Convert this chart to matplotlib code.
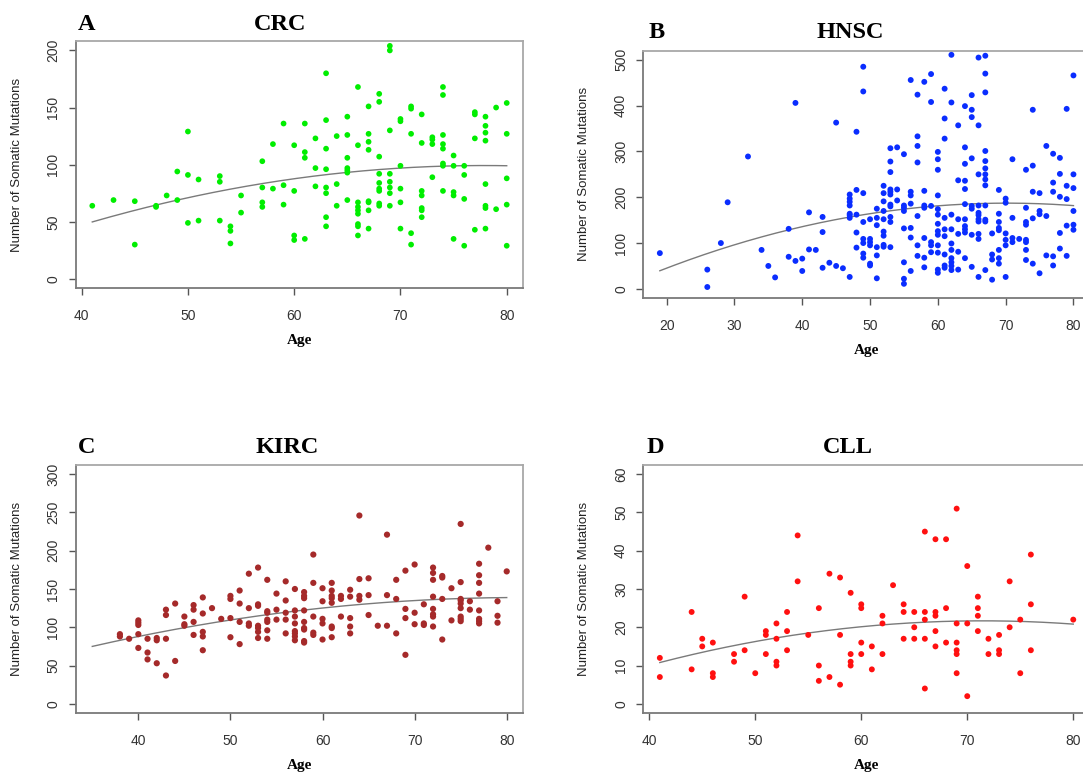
import numpy as np
import matplotlib.pyplot as plt

# --- data (age -> somatic mutation counts) ---
crc_ages = [41, 43, 45, 47, 48, 49, 50, 51, 53, 54, 55, 57, 58, 59, 60, 61, 62, 63, 64, 65,
            66, 67, 68, 69, 70, 71, 72, 73, 74, 75, 76, 77, 78, 79, 80]
crc_counts = [[64], [69], [68, 30], [64, 63], [73], [94, 69], [129, 91, 49], [87, 51],
              [90, 85, 51], [46, 42, 31], [73, 58], [103, 80, 67, 63], [118, 79], [136, 82, 65],
              [117, 77, 38, 34], [136, 111, 106, 35], [123, 97, 81],
              [180, 139, 114, 96, 80, 75, 54, 46], [125, 83, 64], [142, 126, 106, 97, 95, 93, 69],
              [168, 117, 67, 63, 60, 57, 48, 46, 38], [151, 127, 120, 113, 68, 67, 60, 44],
              [162, 155, 107, 92, 84, 79, 77, 66, 64], [204, 200, 130, 92, 85, 80, 75, 64],
              [140, 138, 99, 79, 67, 44], [151, 149, 127, 40, 30], [144, 119, 77, 73, 62, 60, 54],
              [124, 122, 118, 89], [168, 161, 126, 118, 114, 101, 99, 77], [108, 99, 76, 73, 35],
              [99, 91, 70, 29], [146, 144, 123, 43], [142, 134, 128, 121, 83, 64, 62, 44],
              [150, 61], [154, 127, 88, 65, 29]]

hnsc_ages = [19, 26, 28, 29, 32, 34, 35, 36, 38, 39, 40, 41, 42, 43, 44, 45, 46, 47, 48, 49,
             50, 51, 52, 53, 54, 55, 56, 57, 58, 59, 60, 61, 62, 63, 64, 65, 66, 67, 68, 69,
             70, 71, 72, 73, 74, 75, 76, 77, 78, 79, 80]
hnsc_counts = [[78], [42, 4], [100], [189], [289], [85], [50], [25], [131, 70], [406, 61],
               [66, 39], [167, 86], [85], [157, 124, 46], [57], [363, 50], [45],
               [206, 197, 190, 182, 164, 161, 155, 26], [343, 216, 162, 123, 90],
               [485, 431, 209, 146, 109, 100, 77, 68], [152, 109, 102, 95, 55, 51],
               [175, 155, 139, 91, 73, 23], [225, 209, 191, 170, 152, 125, 116, 96, 92],
               [307, 278, 255, 217, 212, 206, 184, 180, 157, 146, 91], [309, 217, 193],
               [294, 182, 177, 170, 132, 58, 22, 11], [456, 212, 204, 186, 133, 112, 39],
               [424, 333, 312, 276, 159, 95, 72], [452, 214, 182, 177, 111, 68, 47],
               [469, 408, 181, 102, 95, 80],
               [299, 283, 260, 204, 174, 162, 142, 126, 118, 95, 79, 42, 35],
               [437, 372, 328, 155, 130, 115, 75, 51, 46],
               [511, 407, 162, 130, 99, 85, 67, 58, 50, 41], [357, 237, 152, 120, 81, 42],
               [399, 309, 273, 236, 218, 185, 152, 137, 130, 123, 67],
               [423, 391, 375, 285, 181, 175, 118, 48],
               [505, 357, 250, 182, 166, 161, 152, 147, 120, 109, 26],
               [509, 470, 429, 301, 279, 263, 250, 239, 226, 182, 151, 147, 41],
               [121, 75, 64, 20], [216, 164, 146, 133, 128, 85, 67, 55],
               [197, 188, 121, 107, 95, 26], [283, 155, 111, 102], [109],
               [260, 177, 146, 140, 107, 102, 85, 63], [391, 269, 212, 154, 55],
               [209, 170, 163, 34], [312, 159, 73], [295, 232, 212, 71, 51],
               [286, 251, 201, 122, 88], [393, 225, 196, 138, 72], [466, 250, 220, 170, 140, 129]]

kirc_ages = [38, 39, 40, 41, 42, 43, 44, 45, 46, 47, 48, 49, 50, 51, 52, 53, 54, 55, 56, 57,
             58, 59, 60, 61, 62, 63, 64, 65, 66, 67, 68, 69, 70, 71, 72, 73, 74, 75, 76, 77,
             78, 79, 80]
kirc_counts = [[91, 88], [85], [109, 106, 103, 91, 73], [85, 67, 58], [86, 83, 53],
               [123, 116, 85, 37], [131, 56], [114, 104, 102], [129, 123, 107, 90],
               [139, 118, 94, 88, 70], [125], [111], [141, 137, 112, 87], [148, 131, 107, 78],
               [170, 125, 105, 102], [178, 130, 128, 102, 99, 94, 86],
               [162, 121, 119, 110, 107, 96, 85], [144, 123, 110], [160, 135, 119, 110, 92],
               [150, 122, 114, 105, 95, 92, 88, 83], [146, 141, 138, 122, 107, 99, 97, 82, 80],
               [195, 158, 114, 93, 90], [151, 134, 111, 105, 84],
               [158, 148, 141, 138, 132, 101, 99, 87], [141, 137, 114], [149, 140, 112, 101, 92],
               [246, 163, 141, 136], [164, 142, 116], [102], [221, 142, 102], [162, 137, 92],
               [174, 124, 112, 64], [182, 119, 104], [130, 105, 103],
               [178, 171, 162, 140, 124, 117, 114, 101], [167, 165, 137, 84], [151, 109],
               [235, 159, 137, 135, 131, 125, 114, 111, 108], [134, 123],
               [183, 168, 158, 144, 122, 111, 108, 105], [204], [134, 115, 106], [173]]

cll_ages = [41, 44, 45, 46, 48, 49, 50, 51, 52, 53, 54, 55, 56, 57, 58, 59, 60, 61, 62, 63,
            64, 65, 66, 67, 68, 69, 70, 71, 72, 73, 74, 75, 76, 80]
cll_counts = [[12, 7], [24, 9], [17, 15], [16, 8, 7], [13, 11], [28, 14], [8], [19, 18, 13],
              [21, 17, 11, 10], [24, 19, 14], [44, 32], [18], [25, 10, 6], [34, 7], [33, 18, 5],
              [29, 13, 11, 10], [26, 25, 16, 13], [15, 9], [23, 21, 13], [31], [26, 24, 17],
              [24, 20, 17], [45, 24, 22, 17, 4], [43, 24, 23, 19, 15], [43, 25, 16],
              [51, 21, 16, 14, 13, 8], [36, 21, 2], [28, 25, 23, 19], [17, 13], [18, 14, 13],
              [32, 20], [22, 8], [39, 26, 14], [22]]

W, H = 1083, 775
fig = plt.figure(figsize=(W / 100, H / 100), dpi=100)

SANS = 'Liberation Sans'
SERIF = 'Liberation Serif'


def expand(ages, counts):
    x = np.repeat(ages, [len(c) for c in counts])
    y = np.concatenate([np.array(c, dtype=float) for c in counts])
    return x, y


# letter, title, ages, counts, colour, box (left, top, right, bottom in px), xlim, ylim,
# xticks, yticks, fit start, title baseline, xlabel y, marker size
panels = [
    ('A', 'CRC', crc_ages, crc_counts, '#00ee00', (75.7, 41.3, 523.3, 288), (39.44, 81.56),
     (-8, 208), range(40, 81, 10), range(0, 201, 50), 41, 29.5, 341, 17),
    ('B', 'HNSC', hnsc_ages, hnsc_counts, '#0a2dff', (643.3, 50.7, 1090, 298), (16.56, 82.44),
     (-20, 520), range(20, 81, 10), range(0, 501, 100), 19, 38, 350, 18),
    ('C', 'KIRC', kirc_ages, kirc_counts, '#a52a2a', (75.7, 465, 523.3, 713), (33.2, 81.8),
     (-12, 312), range(40, 81, 10), range(0, 301, 50), 35, 453, 766, 20),
    ('D', 'CLL', cll_ages, cll_counts, '#ff1010', (643.3, 465, 1089.8, 713), (39.44, 81.56),
     (-2.4, 62.4), range(40, 81, 10), range(0, 61, 10), 41, 453, 766, 18),
]

letter_x = [87, 657, 87, 655]
title_x = [280, 850, 287, 848]

for i, (let, name, ages, counts, col, box, xl, yl, xt, yt, x0, tb, xly, ms) in enumerate(panels):
    l, t, r, b = box
    ax = fig.add_axes([l / W, 1 - b / H, (r - l) / W, (b - t) / H])
    x, y = expand(ages, counts)
    ax.scatter(x, y, s=ms, c=col, edgecolors='none', zorder=3)

    coef = np.polyfit(x, y, 2)
    xf = np.linspace(x0, 80, 200)
    ax.plot(xf, np.polyval(coef, xf), color='#7a7a7a', lw=1.0, zorder=2)

    ax.set_xlim(*xl)
    ax.set_ylim(*yl)
    ax.set_xticks(list(xt))
    ax.set_yticks(list(yt))
    ax.tick_params(length=5, width=1, color='#555555', labelsize=10, labelcolor='#333333')
    ax.tick_params(axis='x', pad=10)
    ax.tick_params(axis='y', pad=6, labelrotation=90)
    for lbl in ax.get_xticklabels() + ax.get_yticklabels():
        lbl.set_fontfamily(SANS)
    for lbl in ax.get_yticklabels():
        lbl.set_va('center')
    for s in ax.spines.values():
        s.set_color('#a8a8a8')
        s.set_linewidth(1.3)
    ax.spines['left'].set_color('#7a7a7a')
    ax.spines['bottom'].set_color('#7a7a7a')

    ax.set_ylabel('Number of Somatic Mutations', fontsize=9.5, family=SANS, color='#222222')
    ax.yaxis.set_label_coords(-53 / (r - l), 0.5)

    fig.text((l + min(r, W + 7)) / 2 / W, 1 - xly / H, 'Age', fontsize=11, family=SERIF,
             weight='bold', ha='center', va='center')
    fig.text(letter_x[i] / W, 1 - tb / H, let, fontsize=17.5, family=SERIF, weight='bold',
             ha='center', va='baseline')
    fig.text(title_x[i] / W, 1 - tb / H, name, fontsize=17.5, family=SERIF, weight='bold',
             ha='center', va='baseline')

fig.savefig('out.png', dpi=100)
